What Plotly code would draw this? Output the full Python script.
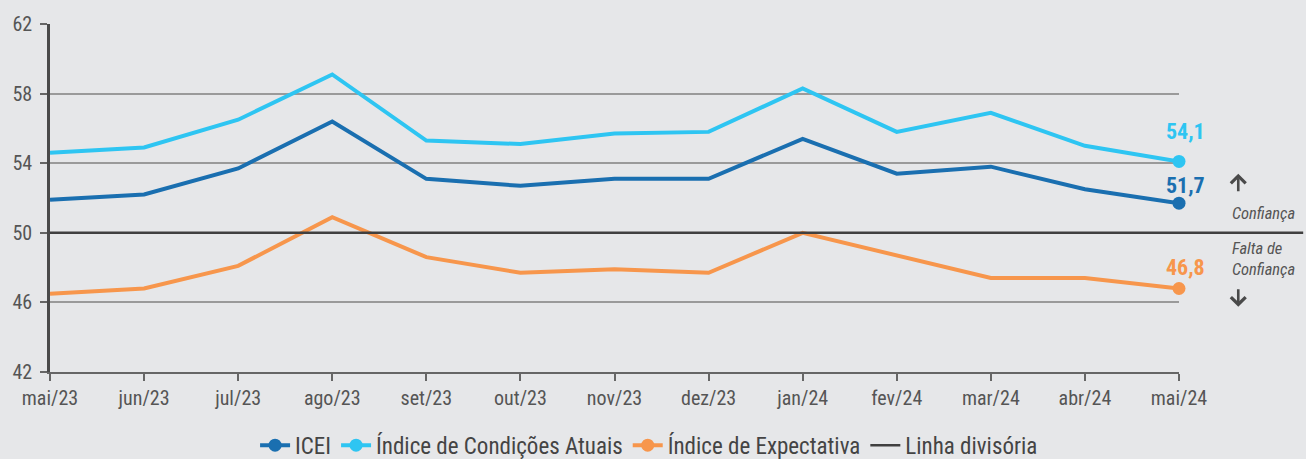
import plotly.graph_objects as go

months = ["mai/23", "jun/23", "jul/23", "ago/23", "set/23", "out/23", "nov/23",
          "dez/23", "jan/24", "fev/24", "mar/24", "abr/24", "mai/24"]
icei = [51.9, 52.2, 53.7, 56.4, 53.1, 52.7, 53.1, 53.1, 55.4, 53.4, 53.8, 52.5, 51.7]
condicoes = [54.6, 54.9, 56.5, 59.1, 55.3, 55.1, 55.7, 55.8, 58.3, 55.8, 56.9, 55.0, 54.1]
expectativa = [46.5, 46.8, 48.1, 50.9, 48.6, 47.7, 47.9, 47.7, 50.0, 48.7, 47.4, 47.4, 46.8]
divisoria = 50
y_ticks = [42, 46, 50, 54, 58, 62]

FONT = "Roboto Condensed, Lato, sans-serif"
BG = "#e6e7e9"
series = [
    ("ICEI", icei, "#1a6fb0"),
    ("Índice de Condições Atuais", condicoes, "#2ec5f2"),
    ("Índice de Expectativa", expectativa, "#f7964c"),
]

fig = go.Figure()
for name, vals, col in series:
    fig.add_trace(go.Scatter(x=months, y=vals, mode="lines", name=name,
                             line=dict(color=col, width=4), showlegend=False,
                             hoverinfo="skip", cliponaxis=False))
for name, vals, col in series:
    fig.add_trace(go.Scatter(x=[months[-1]], y=[vals[-1]], mode="lines+markers", name=name,
                             line=dict(color=col, width=4), cliponaxis=False,
                             marker=dict(color=col, size=13), showlegend=True))

fig.add_shape(type="line", xref="paper", yref="y", x0=0, x1=1.11,
              y0=divisoria, y1=divisoria, line=dict(color="#404040", width=2.5),
              showlegend=True, name="Linha divisória", legendrank=2000, layer="above")

shifts = {"ICEI": 18, "Índice de Condições Atuais": 30, "Índice de Expectativa": 21}
for name, vals, col in series:
    fig.add_annotation(x=months[-1], y=vals[-1], text="<b>%s</b>" % f"{vals[-1]:.1f}".replace(".", ","),
                       showarrow=False, xshift=6, yshift=shifts[name],
                       font=dict(family=FONT, size=22, color=col))

# up / down arrows beside the division line
fig.add_annotation(xref="paper", yref="y", x=1.0525, y=53.4, ax=0, ay=19, text="",
                   showarrow=True, arrowhead=4, arrowsize=1.1, arrowwidth=2.6, arrowcolor="#4a4a4a")
fig.add_annotation(xref="paper", yref="y", x=1.0525, y=45.75, ax=0, ay=-19, text="",
                   showarrow=True, arrowhead=4, arrowsize=1.1, arrowwidth=2.6, arrowcolor="#4a4a4a")
fig.add_annotation(xref="paper", yref="y", x=1.075, y=51.1, text="<i>Confiança</i>", showarrow=False,
                   xanchor="center", font=dict(family=FONT, size=16.5, color="#555"))
fig.add_annotation(xref="paper", yref="y", x=1.075, y=48.5, text="<i>Falta de<br>Confiança</i>",
                   showarrow=False, xanchor="center", align="left",
                   font=dict(family=FONT, size=16.5, color="#555"))

fig.update_layout(
    width=1306, height=459,
    paper_bgcolor=BG, plot_bgcolor=BG,
    margin=dict(l=48, r=127, t=24, b=87),
    font=dict(family=FONT, color="#555", size=20),
    legend=dict(orientation="h", xref="container", yref="container", x=0.497, y=0.03,
                xanchor="center", yanchor="middle", font=dict(size=23, color="#444"),
                itemwidth=30, tracegroupgap=0),
    hovermode=False,
)
fig.update_xaxes(range=[0, 12], showgrid=False, showline=True, linecolor="#666", linewidth=1.5,
                 ticks="outside", ticklen=7, tickcolor="#666", tickwidth=1.5,
                 tickfont=dict(size=20, color="#555"), zeroline=False)
fig.update_yaxes(range=[42, 62], tickvals=y_ticks, showgrid=True, gridcolor="#9a9a9a", gridwidth=1.5,
                 showline=True, linecolor="#4a4a4a", linewidth=2.5, ticks="outside", ticklen=7,
                 tickcolor="#666", tickwidth=1.5, tickfont=dict(size=20, color="#555"),
                 ticklabelstandoff=4, zeroline=False)

fig.write_html("out.html", config={"displayModeBar": False},
               post_script="document.body.style.margin='0';document.body.style.background='#e6e7e9';")
